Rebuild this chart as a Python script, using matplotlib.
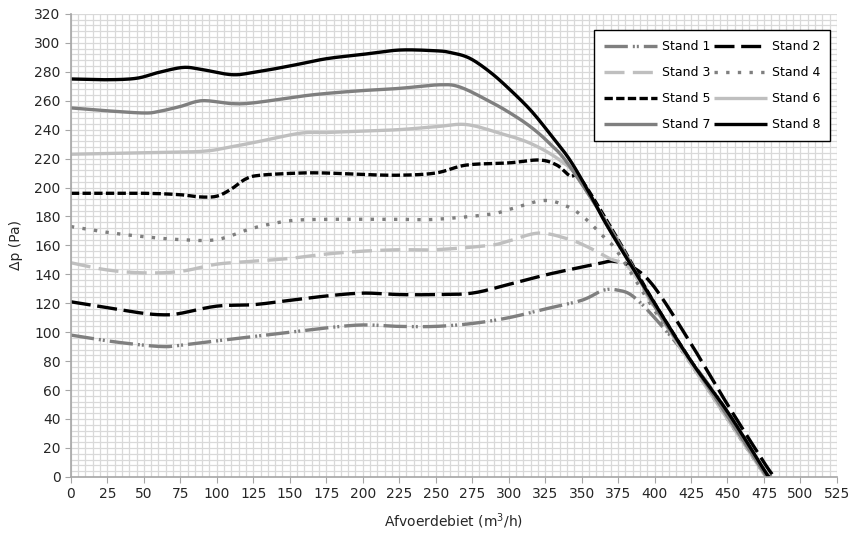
import numpy as np
import matplotlib
matplotlib.use('Agg')
import matplotlib.pyplot as plt
from matplotlib.ticker import MultipleLocator

x1 = [0, 25, 50, 65, 75, 100, 125, 150, 175, 200, 225, 250, 275, 300, 325, 350, 365, 375, 385, 400, 425, 450, 475, 480]
y1 = [98, 94, 91, 90, 91, 94, 97, 100, 103, 105, 104, 104, 106, 110, 116, 122, 129, 129, 125, 110, 80, 45, 5, 0]

x2 = [0, 25, 50, 65, 75, 100, 125, 150, 175, 200, 225, 250, 275, 300, 325, 350, 363, 372, 385, 400, 425, 450, 475, 482]
y2 = [121, 117, 113, 112, 113, 118, 119, 122, 125, 127, 126, 126, 127, 133, 139.5, 145, 147.7, 149, 145, 131, 92, 50, 10, 0]

x3 = [0, 25, 50, 75, 100, 125, 150, 175, 200, 225, 250, 287, 300, 321, 342, 356, 369, 383, 400, 425, 450, 475, 478]
y3 = [148, 143, 141, 142, 147, 149, 151, 154, 156, 157, 157, 160, 163, 168.5, 164, 158, 151, 144, 117, 78, 42, 3, 0]

x4 = [0, 25, 50, 75, 100, 125, 150, 175, 200, 225, 250, 287, 301, 324, 340, 352, 365, 375, 400, 425, 450, 475, 477]
y4 = [173, 169, 166, 164, 164, 172, 177, 178, 178, 178, 178, 181.5, 185, 191, 187, 179, 166, 155, 115, 78, 40, 2, 0]

x5 = [0, 50, 75, 88, 100, 110, 120, 130, 157, 175, 200, 225, 250, 271, 300, 321, 333, 342, 350, 375, 400, 425, 450, 475, 477]
y5 = [196, 196, 195, 193.5, 194, 199, 206, 208.5, 210, 210, 209, 208.5, 210, 215.5, 217, 219, 215.5, 208, 205, 164, 120, 80, 42, 3, 0]

x6 = [0, 50, 90, 109, 125, 157, 175, 200, 225, 250, 271, 294, 315, 335, 349, 375, 400, 425, 450, 475, 476]
y6 = [223, 224, 225, 228, 231, 237.5, 238, 239, 240, 242, 243.5, 237.5, 230.5, 219, 205, 162, 118, 78, 40, 2, 0]

x7 = [0, 25, 50, 60, 75, 90, 110, 125, 157, 175, 200, 225, 253, 267, 287, 301, 315, 328, 342, 375, 400, 425, 450, 475, 477]
y7 = [255, 253, 251.5, 252.5, 256, 260, 258, 258.5, 263, 265, 267, 268.5, 271, 269.3, 259.5, 251.5, 242, 230.5, 214.5, 163, 118, 80, 42, 3, 0]

x8 = [0, 25, 45, 60, 77, 90, 110, 125, 150, 175, 200, 225, 250, 260, 273, 287, 300, 315, 328, 342, 356, 369, 400, 425, 450, 475, 478]
y8 = [275, 274.5, 275.5, 279.5, 283, 281.5, 278, 279.5, 284, 289, 292, 295, 294.5, 293.3, 289.5, 280, 268.5, 253.5, 237.5, 219, 195, 171, 120, 80, 45, 5, 0]

labels = ['Stand 1', 'Stand 2', 'Stand 3', 'Stand 4', 'Stand 5', 'Stand 6', 'Stand 7', 'Stand 8']


def smooth(xs, ys, n=12):
    # afgevlakte lijn zoals in Excel (Catmull-Rom door de punten)
    p = np.column_stack([xs, ys]).astype(float)
    p = np.vstack([p[0], p, p[-1]])
    out = []
    t = np.linspace(0, 1, n, endpoint=False)[:, None]
    for i in range(1, len(p) - 2):
        p0, p1, p2, p3 = p[i - 1], p[i], p[i + 1], p[i + 2]
        m1 = (p2 - p0) / 2
        m2 = (p3 - p1) / 2
        h00 = 2 * t**3 - 3 * t**2 + 1
        h10 = t**3 - 2 * t**2 + t
        h01 = -2 * t**3 + 3 * t**2
        h11 = t**3 - t**2
        out.append(h00 * p1 + h10 * m1 + h01 * p2 + h11 * m2)
    out.append(p[-2][None, :])
    out = np.vstack(out)
    return out[:, 0], out[:, 1]


fig = plt.figure(figsize=(8.54, 5.34), dpi=100)
ax = fig.add_axes([0.083, 0.107, 0.897, 0.867])

lw = 2.4
series = [
    (x1, y1, '#7f7f7f', (0, (7, 1.5, 0.6, 0.6, 0.6, 1.5))),
    (x2, y2, 'black', (0, (6, 2))),
    (x3, y3, '#bfbfbf', (0, (6, 2.5))),
    (x4, y4, '#7f7f7f', (0, (1, 2.5))),
    (x5, y5, 'black', (0, (2.5, 1))),
    (x6, y6, '#bfbfbf', '-'),
    (x7, y7, '#7f7f7f', '-'),
    (x8, y8, 'black', '-'),
]
handles = []
for (xs, ys, c, ls), lab in zip(series, labels):
    sx, sy = smooth(xs, ys)
    h, = ax.plot(sx, sy, color=c, linestyle=ls, linewidth=lw, label=lab,
                 solid_capstyle='butt', dash_capstyle='butt')
    handles.append(h)

ax.set_xlim(0, 525)
ax.set_ylim(0, 320)
ax.xaxis.set_major_locator(MultipleLocator(25))
ax.xaxis.set_minor_locator(MultipleLocator(5))
ax.yaxis.set_major_locator(MultipleLocator(20))
ax.yaxis.set_minor_locator(MultipleLocator(4))
ax.grid(which='both', color='#d9d9d9', linewidth=0.9)
ax.set_axisbelow(True)
ax.tick_params(which='minor', length=0)
ax.tick_params(which='major', length=4, color='#a6a6a6', labelsize=10, labelcolor='#262626')
for s in ['top', 'right']:
    ax.spines[s].set_visible(False)
for s in ['left', 'bottom']:
    ax.spines[s].set_color('#a6a6a6')
    ax.spines[s].set_linewidth(1.2)

ax.set_xlabel('Afvoerdebiet (m$^3$/h)', fontsize=10, color='#262626')
ax.xaxis.set_label_coords(0.5, -0.075)
ax.set_ylabel('Δp (Pa)', fontsize=10, color='#262626', labelpad=8)

order = [0, 2, 4, 6, 1, 3, 5, 7]
leg = ax.legend([handles[i] for i in order], [labels[i] for i in order], ncol=2,
                loc='upper right', bbox_to_anchor=(0.991, 0.965), borderaxespad=0,
                fontsize=9, frameon=True, fancybox=False, framealpha=1, edgecolor='black',
                handlelength=4.2, handletextpad=0.4, columnspacing=0.3,
                labelspacing=1.05, borderpad=0.8)
leg.get_frame().set_linewidth(1.0)

fig.savefig('out.png', dpi=100)
